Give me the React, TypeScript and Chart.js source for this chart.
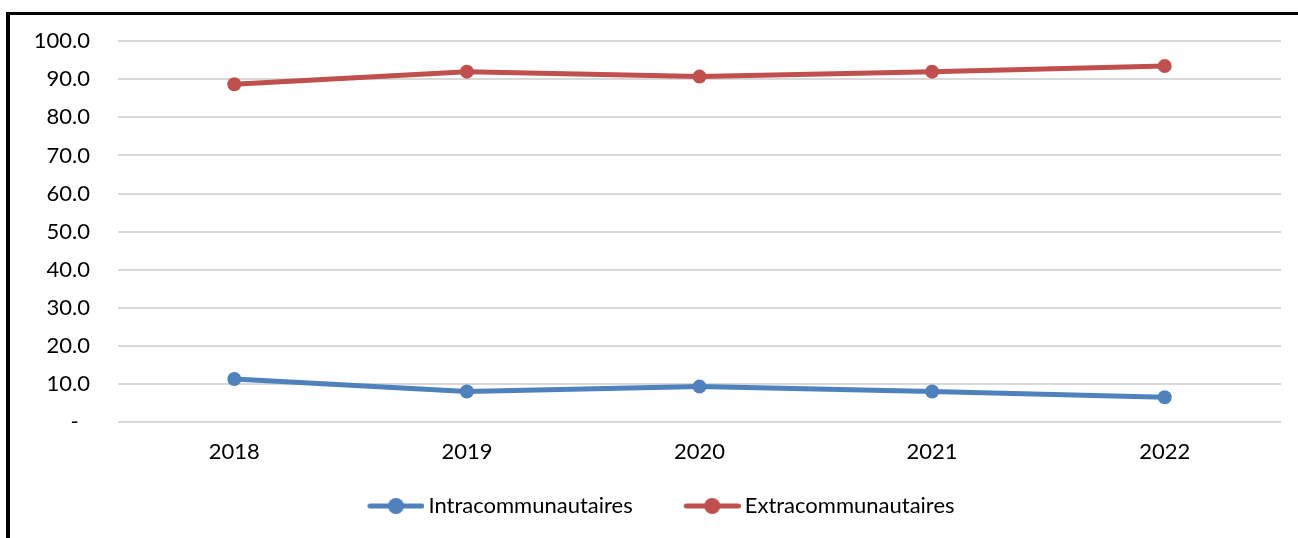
import React, { useEffect, useRef } from "react";
import { Chart, registerables } from "chart.js";

Chart.register(...registerables);

// ---- data ----
const years: string[] = ["2018", "2019", "2020", "2021", "2022"];
const intraValues: number[] = [11.3, 8.0, 9.3, 8.0, 6.5];
const extraValues: number[] = [88.7, 92.0, 90.7, 92.0, 93.5];
const seriesNames: string[] = ["Intracommunautaires", "Extracommunautaires"];
const yMin = 0;
const yMax = 100;
const yStep = 10;

const BLUE = "#4f81bd";
const RED = "#c0504d";
const FONT = "Lato, 'Liberation Sans', sans-serif";
const FONT_SIZE = 22;

function legendMarker(color: string): HTMLCanvasElement {
  const c = document.createElement("canvas");
  c.width = 105;
  c.height = 18;
  const ctx = c.getContext("2d")!;
  ctx.strokeStyle = color;
  ctx.lineWidth = 5;
  ctx.lineCap = "round";
  ctx.beginPath();
  ctx.moveTo(48 + 2.5, 9);
  ctx.lineTo(105 - 2.5, 9);
  ctx.stroke();
  ctx.fillStyle = color;
  ctx.beginPath();
  ctx.arc(48 + 28.5, 9, 8, 0, Math.PI * 2);
  ctx.fill();
  return c;
}

export default function App() {
  const canvasRef = useRef<HTMLCanvasElement | null>(null);

  useEffect(() => {
    if (!canvasRef.current) return;
    const markers = [legendMarker(BLUE), legendMarker(RED)];
    const chart = new Chart(canvasRef.current, {
      type: "line",
      data: {
        labels: years,
        datasets: [
          {
            label: seriesNames[0],
            data: intraValues,
            borderColor: BLUE,
            backgroundColor: BLUE,
            borderWidth: 5,
            pointRadius: 7,
            pointBackgroundColor: BLUE,
            pointBorderColor: BLUE,
            pointBorderWidth: 0,
            tension: 0,
          },
          {
            label: seriesNames[1],
            data: extraValues,
            borderColor: RED,
            backgroundColor: RED,
            borderWidth: 5,
            pointRadius: 7,
            pointBackgroundColor: RED,
            pointBorderColor: RED,
            pointBorderWidth: 0,
            tension: 0,
          },
        ],
      },
      options: {
        responsive: false,
        animation: false,
        layout: { padding: { left: 0, right: 17, top: 41, bottom: 11 } },
        scales: {
          x: {
            offset: true,
            grid: { display: false, drawTicks: false },
            border: { display: false },
            ticks: {
              color: "#000",
              padding: 17,
              font: { family: FONT, size: FONT_SIZE },
              maxRotation: 0,
            },
            afterFit: (scale: any) => {
              scale.height = 63;
            },
          },
          y: {
            min: yMin,
            max: yMax,
            grid: { color: "#d9d9d9", lineWidth: 2, drawTicks: false },
            border: { display: false },
            ticks: {
              stepSize: yStep,
              color: "#000",
              padding: 28,
              font: { family: FONT, size: FONT_SIZE },
              callback: (v: any) => (Number(v) === 0 ? "-  " : Number(v).toFixed(1)),
            },
            afterFit: (scale: any) => {
              scale.width = 118;
            },
          },
        },
        plugins: {
          tooltip: { enabled: false },
          legend: {
            position: "bottom",
            labels: {
              color: "#000",
              font: { family: FONT, size: FONT_SIZE },
              usePointStyle: true,
              pointStyleWidth: 91,
              padding: 10,
              generateLabels: (ch: any) => {
                const items = Chart.defaults.plugins.legend.labels.generateLabels(ch);
                return items.map((it: any, i: number) => ({ ...it, pointStyle: markers[i] }));
              },
            },
          },
        },
      },
    });
    return () => chart.destroy();
  }, []);

  return (
    <div
      style={{
        position: "fixed",
        left: 0,
        top: 0,
        width: 1298,
        height: 538,
        overflow: "hidden",
        background: "#fff",
      }}
    >
      <canvas
        ref={canvasRef}
        width={1298}
        height={538}
        style={{ position: "absolute", left: 0, top: 0, width: 1298, height: 538 }}
      />
      <div
        style={{
          position: "absolute",
          left: 6,
          top: 12,
          width: 1400,
          height: 600,
          borderTop: "3px solid #000",
          borderLeft: "4px solid #000",
          pointerEvents: "none",
        }}
      />
    </div>
  );
}
